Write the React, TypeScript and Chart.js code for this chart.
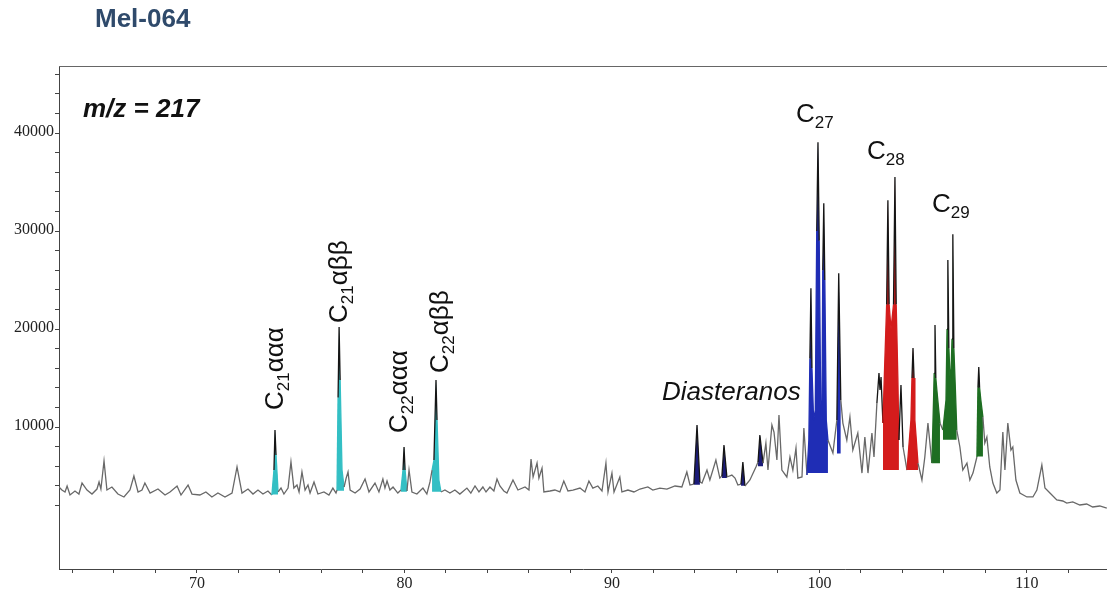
import React, { useEffect, useRef } from 'react';
import { Chart, registerables } from 'chart.js';

Chart.register(...registerables);

// Retention time (min) of the m/z 217 trace
const traceX = [
  63.35, 63.49, 63.64, 63.74, 63.88, 64.12, 64.31, 64.46, 64.70, 64.94,
  65.18, 65.28, 65.37, 65.52, 65.66, 65.90, 66.19, 66.48, 66.77, 66.96,
  67.16, 67.35, 67.49, 67.74, 68.12, 68.46, 68.70, 69.04, 69.23, 69.57,
  69.76, 70.14, 70.43, 70.72, 71.01, 71.35, 71.69, 71.93, 72.17, 72.46,
  72.70, 72.94, 73.18, 73.42, 73.61, 73.71, 73.76, 73.81, 73.91, 74.05,
  74.19, 74.39, 74.53, 74.67, 74.82, 74.92, 75.06, 75.21, 75.35, 75.45,
  75.64, 75.83, 76.12, 76.36, 76.55, 76.70, 76.75, 76.80, 76.85, 76.90,
  76.99, 77.09, 77.19, 77.28, 77.38, 77.62, 77.86, 78.10, 78.29, 78.58,
  78.77, 78.96, 79.06, 79.16, 79.30, 79.45, 79.68, 79.83, 79.93, 79.98,
  80.03, 80.12, 80.22, 80.36, 80.60, 80.89, 81.08, 81.23, 81.33, 81.42,
  81.52, 81.57, 81.66, 81.76, 81.95, 82.19, 82.43, 82.67, 83.01, 83.20,
  83.40, 83.59, 83.78, 83.93, 84.12, 84.31, 84.46, 84.60, 84.79, 84.94,
  85.23, 85.47, 85.81, 86.00, 86.10, 86.20, 86.39, 86.48, 86.63, 86.72,
  87.01, 87.25, 87.49, 87.68, 87.88, 88.12, 88.46, 88.70, 88.89, 89.08,
  89.32, 89.52, 89.71, 89.81, 90.00, 90.10, 90.38, 90.48, 90.77, 91.06,
  91.35, 91.73, 91.97, 92.31, 92.65, 93.04, 93.37, 93.61, 93.76, 93.95,
  94.10, 94.24, 94.34, 94.58, 94.72, 95.01, 95.20, 95.30, 95.40, 95.54,
  95.78, 95.93, 96.07, 96.22, 96.31, 96.41, 96.65, 96.94, 97.04, 97.13,
  97.28, 97.42, 97.52, 97.71, 97.81, 97.95, 98.05, 98.19, 98.43, 98.58,
  98.72, 98.87, 98.96, 99.16, 99.25, 99.40, 99.49, 99.54, 99.59, 99.64,
  99.72, 99.80, 99.87, 99.93, 99.99, 100.06, 100.12, 100.16, 100.21, 100.26,
  100.33, 100.41, 100.65, 100.84, 100.93, 101.03, 101.13, 101.32, 101.47, 101.61,
  101.85, 102.05, 102.19, 102.34, 102.53, 102.63, 102.77, 102.87, 102.92, 102.97,
  103.06, 103.14, 103.24, 103.30, 103.36, 103.45, 103.57, 103.64, 103.70, 103.78,
  103.83, 103.93, 104.03, 104.22, 104.41, 104.46, 104.51, 104.56, 104.60, 104.75,
  104.94, 105.08, 105.23, 105.42, 105.50, 105.53, 105.57, 105.61, 105.66, 105.81,
  105.95, 106.10, 106.15, 106.19, 106.24, 106.30, 106.35, 106.39, 106.43, 106.48,
  106.55, 106.62, 106.77, 106.91, 107.11, 107.25, 107.40, 107.59, 107.64, 107.68,
  107.72, 107.78, 107.88, 107.97, 108.07, 108.21, 108.36, 108.55, 108.70, 108.84,
  108.94, 109.08, 109.23, 109.32, 109.47, 109.66, 110.00, 110.29, 110.48, 110.72,
  110.87, 111.11, 111.44, 111.73, 111.92, 112.21, 112.55, 112.88, 113.17, 113.51,
  113.85,
];

// Abundance of the m/z 217 trace
const traceY = [
  3880, 3570, 3370, 3980, 3060, 3470, 3160, 4280, 3570, 3160,
  3670, 4390, 3670, 6530, 3570, 3880, 3160, 2860, 3570, 5000,
  3370, 3570, 4280, 3260, 3670, 3060, 3370, 3980, 3060, 4080,
  3160, 3060, 3370, 2860, 3260, 2860, 3260, 5920, 3260, 3670,
  3160, 3570, 3160, 3470, 3060, 5610, 9690, 7140, 3370, 3770,
  3160, 3770, 6430, 3770, 4080, 3370, 5410, 3570, 4080, 3260,
  4390, 3160, 3370, 3060, 3770, 3260, 3570, 13000, 20200, 14790,
  5610, 3880, 4790, 5410, 3570, 3260, 3670, 4690, 3370, 4280,
  3370, 4690, 3770, 4490, 3570, 3880, 3260, 3570, 5610, 7960,
  5610, 3470, 5610, 3370, 3160, 3770, 3160, 4390, 5610, 6630,
  14790, 10710, 4590, 3370, 3570, 3260, 3570, 3160, 3770, 3260,
  3980, 3370, 3880, 3370, 3880, 3470, 4690, 3980, 3470, 3260,
  4590, 3570, 3880, 3570, 6730, 4900, 6320, 4790, 5810, 3370,
  3470, 3570, 3370, 4490, 3470, 3570, 3770, 3370, 4490, 3770,
  3980, 3470, 6320, 3370, 5300, 3370, 4900, 3370, 3570, 3370,
  3670, 3880, 3570, 3770, 3670, 3980, 3880, 5410, 4080, 4180,
  10200, 4390, 4280, 5610, 4590, 6630, 4790, 5000, 8160, 4900,
  5100, 4790, 4080, 4180, 6430, 3980, 4590, 5920, 6430, 9180,
  6320, 8360, 5610, 10200, 9490, 6630, 11220, 5610, 4900, 6940,
  5610, 7850, 4790, 4900, 9890, 5100, 8670, 17000, 24170, 16000,
  10710, 11730, 30000, 39070, 29000, 12750, 10710, 26000, 32840, 25000,
  10710, 8670, 7340, 10710, 25700, 12750, 10400, 8670, 11020, 7650,
  9380, 5300, 8980, 5300, 9380, 6940, 12440, 15500, 13770, 15100,
  10400, 16000, 22500, 33150, 22500, 20000, 22500, 35500, 22500, 15000,
  8670, 14280, 7960, 5610, 10710, 15000, 18050, 15000, 10710, 6320,
  4590, 6940, 10400, 6320, 12750, 15500, 20400, 15000, 13770, 10400,
  9690, 12750, 20000, 27030, 18000, 14790, 16000, 19000, 29680, 18000,
  14000, 9690, 7960, 5610, 6320, 4590, 5300, 6940, 14000, 16120,
  14000, 12750, 11020, 8360, 8980, 5920, 4280, 3260, 3570, 9490,
  5610, 10400, 7650, 7960, 4590, 3260, 2860, 2860, 3570, 6120,
  3770, 3260, 2550, 2450, 2240, 2350, 2040, 2140, 1840, 1940,
  1730,
];

// Shaded (identified) peak groups: start, end, local baseline, colour
const regionFrom = [73.61, 76.75, 79.83, 81.33, 93.95, 95.30, 96.22, 97.04, 99.40, 100.84, 103.06, 104.22, 105.42, 105.95, 107.59];
const regionTo = [73.91, 77.09, 80.12, 81.76, 94.24, 95.54, 96.41, 97.28, 100.41, 101.03, 103.83, 104.75, 105.81, 106.62, 107.88];
const regionBase = [3100, 3500, 3400, 3400, 4100, 4800, 4000, 6000, 5300, 7300, 5600, 5600, 6300, 8700, 7000];
const regionColor = [
  '#33bfc4', '#33bfc4', '#33bfc4', '#33bfc4',
  '#1b1b78', '#1b1b78', '#1b1b78', '#1b1b78',
  '#1f2db5', '#1f2db5',
  '#d41c1c', '#d41c1c',
  '#1e6e22', '#1e6e22', '#1e6e22',
];

// Axis ticks
const xTickValues = [64, 66, 68, 70, 72, 74, 76, 78, 80, 82, 84, 86, 88, 90, 92, 94, 96, 98, 100, 102, 104, 106, 108, 110, 112];
const yTickValues = [2000, 4000, 6000, 8000, 10000, 12000, 14000, 16000, 18000, 20000, 22000, 24000, 26000, 28000, 30000, 32000, 34000, 36000, 38000, 40000, 42000, 44000, 46000];
const xLabelStep = 10;
const yLabelStep = 10000;
const xMin = 63.35;
const xMax = 113.86;
const yMin = -4490;
const yMax = 46840;

const SANS = '"Liberation Sans", Arial, sans-serif';
const SERIF = '"Liberation Serif", "Times New Roman", serif';

function isLocalPeak(i: number) {
  return i > 0 && i < traceY.length - 1 && traceY[i] > traceY[i - 1] && traceY[i] > traceY[i + 1];
}

function regionOf(i0: number, i1: number) {
  const x0 = traceX[i0];
  const x1 = traceX[i1];
  return regionFrom.findIndex((f, k) => x0 >= f - 1e-9 && x1 <= regionTo[k] + 1e-9);
}

function segmentColor(i0: number, i1: number) {
  const r = regionOf(i0, i1);
  const touchesPeak = isLocalPeak(i0) || isLocalPeak(i1);
  if (r >= 0) return touchesPeak ? '#151515' : regionColor[r];
  return Math.max(traceY[i0], traceY[i1]) > 13000 ? '#151515' : '#686868';
}

function drawSubLabel(
  ctx: CanvasRenderingContext2D,
  x: number,
  y: number,
  main: string,
  sub: string,
  tail: string,
  size: number,
  subSize: number,
  drop: number,
  rotate: boolean
) {
  ctx.save();
  ctx.translate(x, y);
  if (rotate) ctx.rotate(-Math.PI / 2);
  ctx.textAlign = 'left';
  ctx.textBaseline = 'alphabetic';
  ctx.fillStyle = '#111';
  ctx.font = `${size}px ${SANS}`;
  ctx.fillText(main, 0, 0);
  let cx = ctx.measureText(main).width;
  ctx.font = `${subSize}px ${SANS}`;
  ctx.fillText(sub, cx, drop);
  cx += ctx.measureText(sub).width;
  if (tail) {
    ctx.font = `${size}px ${SANS}`;
    ctx.fillText(tail, cx, 0);
  }
  ctx.restore();
}

const textPlugin = {
  id: 'chromTexts',
  afterDraw(chart: any) {
    const ctx: CanvasRenderingContext2D = chart.ctx;
    const a = chart.chartArea;
    ctx.save();
    // top frame line
    ctx.strokeStyle = '#666';
    ctx.lineWidth = 1;
    ctx.beginPath();
    ctx.moveTo(a.left, Math.round(a.top) + 0.5);
    ctx.lineTo(a.right, Math.round(a.top) + 0.5);
    ctx.stroke();

    // title
    ctx.fillStyle = '#2f4a6b';
    ctx.font = `bold 26px ${SANS}`;
    ctx.textAlign = 'left';
    ctx.textBaseline = 'alphabetic';
    ctx.fillText('Mel-064', 95, 27);

    // m/z
    ctx.fillStyle = '#111';
    ctx.font = `italic bold 26px ${SANS}`;
    ctx.fillText('m/z = 217', 83, 117);

    // Diasteranos
    ctx.font = `italic 26px ${SANS}`;
    ctx.fillText('Diasteranos', 662, 400);
    ctx.restore();

    // Regular steranes
    drawSubLabel(ctx, 796, 122, 'C', '27', '', 26, 17, 6, false);
    drawSubLabel(ctx, 867, 159, 'C', '28', '', 26, 17, 6, false);
    drawSubLabel(ctx, 932, 212, 'C', '29', '', 26, 17, 6, false);

    // Pregnanes (rotated)
    drawSubLabel(ctx, 283, 410, 'C', '21', 'ααα', 26, 17, 6, true);
    drawSubLabel(ctx, 347, 323, 'C', '21', 'αββ', 26, 17, 6, true);
    drawSubLabel(ctx, 407, 433, 'C', '22', 'ααα', 26, 17, 6, true);
    drawSubLabel(ctx, 448, 373, 'C', '22', 'αββ', 26, 17, 6, true);
  },
};

export default function App() {
  const canvasRef = useRef<HTMLCanvasElement>(null);

  useEffect(() => {
    document.body.style.margin = '0';
    const canvas = canvasRef.current;
    if (!canvas) return;

    const points = traceX.map((x, i) => ({ x, y: traceY[i] }));

    const fillSets = regionFrom.map((from, i) => ({
      data: points.filter((p) => p.x >= from - 1e-9 && p.x <= regionTo[i] + 1e-9),
      borderWidth: 0,
      borderColor: 'rgba(0,0,0,0)',
      backgroundColor: regionColor[i],
      pointRadius: 0,
      fill: { value: regionBase[i] },
      order: 1,
    }));

    const chart = new Chart(canvas, {
      type: 'line',
      data: {
        datasets: [
          {
            data: points,
            borderColor: '#666',
            borderWidth: 1.3,
            pointRadius: 0,
            fill: false,
            order: 0,
            segment: {
              borderColor: (c: any) => segmentColor(c.p0DataIndex, c.p1DataIndex),
            },
          } as any,
          ...(fillSets as any[]),
        ],
      },
      options: {
        responsive: false,
        animation: false,
        events: [],
        layout: { padding: { top: 66, left: 0, right: 0, bottom: 0 } },
        elements: { line: { tension: 0 } },
        plugins: {
          legend: { display: false },
          tooltip: { enabled: false },
          title: { display: false },
        },
        scales: {
          x: {
            type: 'linear',
            min: xMin,
            max: xMax,
            border: { display: true, color: '#444', width: 1 },
            grid: { display: true, drawOnChartArea: false, drawTicks: true, tickLength: 4, color: '#444' },
            ticks: {
              autoSkip: false,
              maxRotation: 0,
              padding: 1,
              color: '#222',
              font: { family: SERIF, size: 16 },
              callback: (v: any) => (Number(v) % xLabelStep === 0 ? String(v) : ''),
            },
            afterBuildTicks: (s: any) => {
              s.ticks = xTickValues.map((v) => ({ value: v }));
            },
            afterFit: (s: any) => {
              s.height = 25;
            },
          },
          y: {
            type: 'linear',
            min: yMin,
            max: yMax,
            border: { display: true, color: '#444', width: 1 },
            grid: { display: true, drawOnChartArea: false, drawTicks: true, tickLength: 4, color: '#444' },
            ticks: {
              autoSkip: false,
              padding: 1,
              labelOffset: -1,
              color: '#222',
              font: { family: SERIF, size: 16 },
              callback: (v: any) => (Number(v) % yLabelStep === 0 ? String(v) : ''),
            },
            afterBuildTicks: (s: any) => {
              s.ticks = yTickValues.map((v) => ({ value: v }));
            },
            afterFit: (s: any) => {
              s.width = 59;
            },
          },
        },
      },
      plugins: [textPlugin],
    } as any);

    return () => chart.destroy();
  }, []);

  return (
    <div style={{ width: 1107, height: 594, position: 'relative', background: '#fff' }}>
      <canvas ref={canvasRef} width={1107} height={594} style={{ display: 'block' }} />
    </div>
  );
}
